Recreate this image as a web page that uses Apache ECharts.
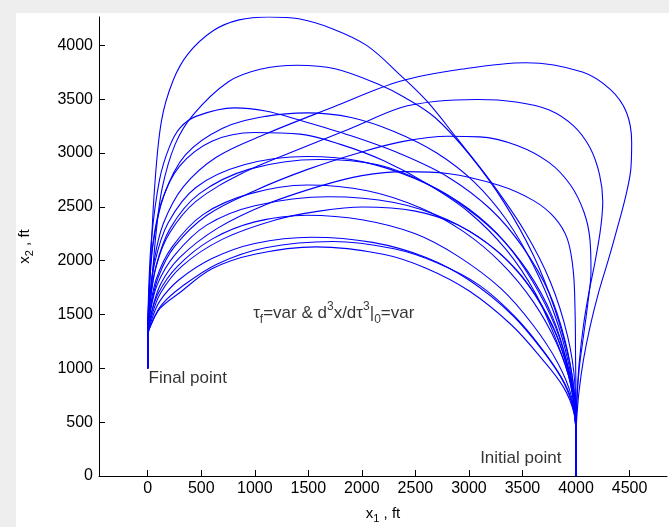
<!DOCTYPE html>
<html><head><meta charset="utf-8">
<script src="https://cdn.jsdelivr.net/npm/echarts@6/dist/echarts.min.js"></script>
<style>
html,body{margin:0;padding:0;width:669px;height:527px;background:#eeeeee;overflow:hidden}
#c{position:absolute;left:16px;top:13px;width:653px;height:514px;background:#ffffff}
</style></head><body><div id="c"></div>
<script>
// tick values
const xTicks = [0,500,1000,1500,2000,2500,3000,3500,4000,4500];
const yTicks = [0,500,1000,1500,2000,2500,3000,3500,4000];

// trajectories [x1, x2] in ft, from the final point (0,1000) to the initial point (4000,0)
const c1 = [[0,1000],[0,1300],[10,1600],[24,1925],[64,2673],[128,3296],[235,3669],[375,3919],[614,4137],[853,4236],[1132,4263],[1411,4246],[1729,4152],[2048,3997],[2367,3716],[2606,3483],[2885,3140],[3204,2735],[3523,2268],[3762,1800],[3921,1302],[3990,850],[4000,400],[4000,0]];
const c2 = [[0,1000],[0,1300],[15,1550],[36,1769],[76,2237],[135,2673],[255,3078],[420,3350],[750,3660],[1050,3778],[1400,3815],[1750,3782],[2150,3640],[2400,3515],[2686,3327],[3005,2984],[3323,2548],[3602,2050],[3802,1551],[3941,1053],[3995,650],[4000,350],[4000,0]];
const c3 = [[0,1000],[0,1300],[15,1600],[60,2000],[146,2345],[332,2685],[644,2963],[1111,3180],[1734,3427],[2357,3666],[2963,3783],[3536,3838],[4060,3752],[4320,3590],[4470,3380],[4520,3100],[4512,2850],[4460,2580],[4385,2300],[4300,2000],[4210,1700],[4130,1380],[4070,1080],[4030,800],[4008,550],[4000,350],[4000,0]];
const c4 = [[0,1000],[0,1300],[20,1600],[80,1950],[200,2250],[450,2550],[900,2820],[1400,3030],[1900,3230],[2360,3420],[2700,3480],[3080,3497],[3440,3474],[3750,3400],[3980,3250],[4130,3050],[4220,2800],[4250,2550],[4230,2300],[4180,2000],[4120,1700],[4070,1400],[4030,1050],[4008,700],[4000,350],[4000,0]];
const c5 = [[0,1000],[0,1300],[8,1700],[35,2200],[110,2750],[200,3050],[300,3230],[450,3340],[810,3419],[1100,3390],[1423,3304],[1900,3160],[2357,2994],[2800,2780],[3200,2480],[3500,2130],[3750,1700],[3900,1250],[3980,800],[4000,350],[4000,0]];
const c6 = [[0,1000],[0,1300],[12,1650],[50,2150],[150,2600],[350,2980],[700,3230],[1100,3340],[1490,3373],[1900,3330],[2300,3200],[2700,3000],[3050,2730],[3350,2380],[3600,1960],[3800,1500],[3930,1050],[3990,650],[4000,350],[4000,0]];
const c7 = [[0,1000],[0,1300],[25,1550],[100,1850],[250,2130],[550,2420],[1000,2650],[1500,2850],[2000,3010],[2400,3110],[2800,3155],[3100,3150],[3450,3070],[3750,2910],[3950,2700],[4075,2450],[4130,2200],[4140,1900],[4110,1600],[4070,1300],[4030,1000],[4008,700],[4000,350],[4000,0]];
const c8 = [[0,1000],[0,1300],[10,1650],[40,2100],[130,2550],[300,2880],[600,3110],[1000,3190],[1423,3175],[1800,3080],[2200,2930],[2600,2720],[3000,2450],[3350,2100],[3620,1700],[3820,1250],[3950,850],[4000,350],[4000,0]];
const c9 = [[0,1000],[0,1300],[15,1600],[65,1980],[190,2350],[450,2680],[900,2890],[1490,2967],[2000,2920],[2500,2760],[2900,2540],[3250,2260],[3550,1900],[3780,1480],[3930,1000],[3995,600],[4000,350],[4000,0]];
const c10 = [[0,1000],[0,1300],[30,1500],[120,1780],[300,2030],[650,2300],[1100,2520],[1600,2690],[2000,2790],[2404,2827],[2800,2810],[3280,2700],[3600,2560],[3800,2400],[3920,2200],[3975,1900],[3992,1500],[3996,1100],[4000,700],[4000,350],[4000,0]];
const c11 = [[0,1000],[0,1300],[18,1520],[80,1830],[230,2130],[520,2430],[950,2620],[1490,2702],[2050,2650],[2550,2490],[2950,2270],[3300,1980],[3600,1620],[3820,1230],[3950,850],[4000,350],[4000,0]];
const c12 = [[0,1000],[0,1300],[20,1500],[90,1780],[250,2050],[550,2330],[1000,2510],[1690,2593],[2300,2540],[2800,2380],[3200,2140],[3500,1850],[3750,1450],[3900,1080],[3980,700],[4000,350],[4000,0]];
const c13 = [[0,1000],[0,1300],[30,1460],[120,1700],[320,1950],[700,2200],[1200,2380],[1600,2460],[2007,2499],[2500,2460],[2900,2330],[3250,2100],[3550,1780],[3780,1400],[3920,1000],[3990,650],[4000,350],[4000,0]];
const c14 = [[0,1000],[0,1300],[25,1470],[100,1700],[280,1950],[600,2200],[1000,2360],[1490,2422],[2000,2380],[2500,2250],[2900,2040],[3300,1740],[3600,1400],[3830,1050],[3960,730],[4000,350],[4000,0]];
const c15 = [[0,1000],[0,1300],[30,1430],[110,1620],[290,1820],[600,2020],[1000,2160],[1530,2218],[2100,2170],[2600,2030],[3000,1820],[3400,1500],[3700,1150],[3890,860],[3980,600],[4000,350],[4000,0]];
const c16 = [[0,1000],[0,1300],[35,1420],[130,1590],[320,1760],[650,1970],[1100,2120],[1730,2178],[2300,2110],[2700,1980],[3100,1770],[3450,1460],[3720,1130],[3900,850],[3985,600],[4000,350],[4000,0]];
const c17 = [[0,1000],[0,1300],[30,1400],[115,1556],[295,1700],[600,1925],[1000,2060],[1570,2128],[2200,2060],[2600,1930],[3000,1720],[3400,1400],[3680,1090],[3880,830],[3980,590],[4000,350],[4000,0]];
const c18 = [[0,1000],[0,1300],[18,1580],[75,1940],[210,2300],[480,2620],[950,2850],[1600,2940],[2150,2890],[2600,2720],[3000,2480],[3330,2180],[3600,1800],[3810,1380],[3940,950],[3995,600],[4000,350],[4000,0]];

const curves = [c1,c2,c3,c4,c5,c6,c7,c8,c9,c10,c11,c12,c13,c14,c15,c16,c17,c18];

// annotations: [x1, x2] anchor
const noteFinal = [3, 905];
const noteInitial = [3100, 160];
const noteEq = [980, 1510];

const font = '"Liberation Sans", Arial, Helvetica, sans-serif';
const chart = echarts.init(document.getElementById('c'), null, {renderer: 'canvas'});

const series = curves.map(d => ({
  type: 'line', data: d, showSymbol: false, smooth: 0.35, silent: true,
  lineStyle: {color: '#0000ff', width: 1.1}, emphasis: {disabled: true}
}));

const eqRich = {
  m: {fontSize: 17, lineHeight: 25, fontFamily: font, color: '#000'},
  p: {fontSize: 12, lineHeight: 12, verticalAlign: 'top', fontFamily: font, color: '#000'},
  b: {fontSize: 12, lineHeight: 12, verticalAlign: 'bottom', fontFamily: font, color: '#000'}
};

series.push({
  type: 'scatter', symbolSize: 1, silent: true,
  itemStyle: {color: 'rgba(0,0,0,0)'},
  label: {show: true, position: 'right', distance: 0, color: '#000', fontSize: 17, fontFamily: font},
  data: [
    {value: noteFinal, label: {formatter: 'Final point'}},
    {value: noteInitial, label: {formatter: 'Initial point'}},
    {value: noteEq, label: {formatter: '{m|τ}{b|f}{m|=var & d}{p|3}{m|x/dτ}{p|3}{m||}{b|0}{m|=var}', rich: eqRich}}
  ]
});

const nameRich = {
  a: {fontSize: 15, fontFamily: font, color: '#000', lineHeight: 20},
  s: {fontSize: 11, fontFamily: font, color: '#000', lineHeight: 11, verticalAlign: 'bottom'}
};
const plain = v => String(v);

chart.setOption({
  animation: false,
  backgroundColor: '#ffffff',
  grid: {left: 83, right: 2, top: 4, bottom: 51, containLabel: false, outerBoundsMode: 'none'},
  xAxis: {
    type: 'value', min: -455, max: 4850,
    axisLine: {show: true, onZero: false, lineStyle: {color: '#000', width: 1}},
    axisTick: {show: true, inside: true, length: 6, customValues: xTicks, lineStyle: {color: '#000'}},
    axisLabel: {customValues: xTicks, formatter: plain, color: '#000', fontSize: 16, fontFamily: font, margin: 5},
    splitLine: {show: false},
    name: '{a|x}{s|1}{a| , ft}', nameLocation: 'middle', nameGap: 28,
    nameTextStyle: {rich: nameRich}
  },
  yAxis: {
    type: 'value', min: 0, max: 4263,
    axisLine: {show: true, onZero: false, lineStyle: {color: '#000', width: 1}},
    axisTick: {show: true, inside: true, length: 6, customValues: yTicks, lineStyle: {color: '#000'}},
    axisLabel: {customValues: yTicks, formatter: plain, color: '#000', fontSize: 16, fontFamily: font, margin: 6},
    splitLine: {show: false},
    name: '{a|x}{s|2}{a| , ft}', nameLocation: 'middle', nameGap: 64,
    nameTextStyle: {rich: nameRich}
  },
  series: series
});
</script></body></html>
